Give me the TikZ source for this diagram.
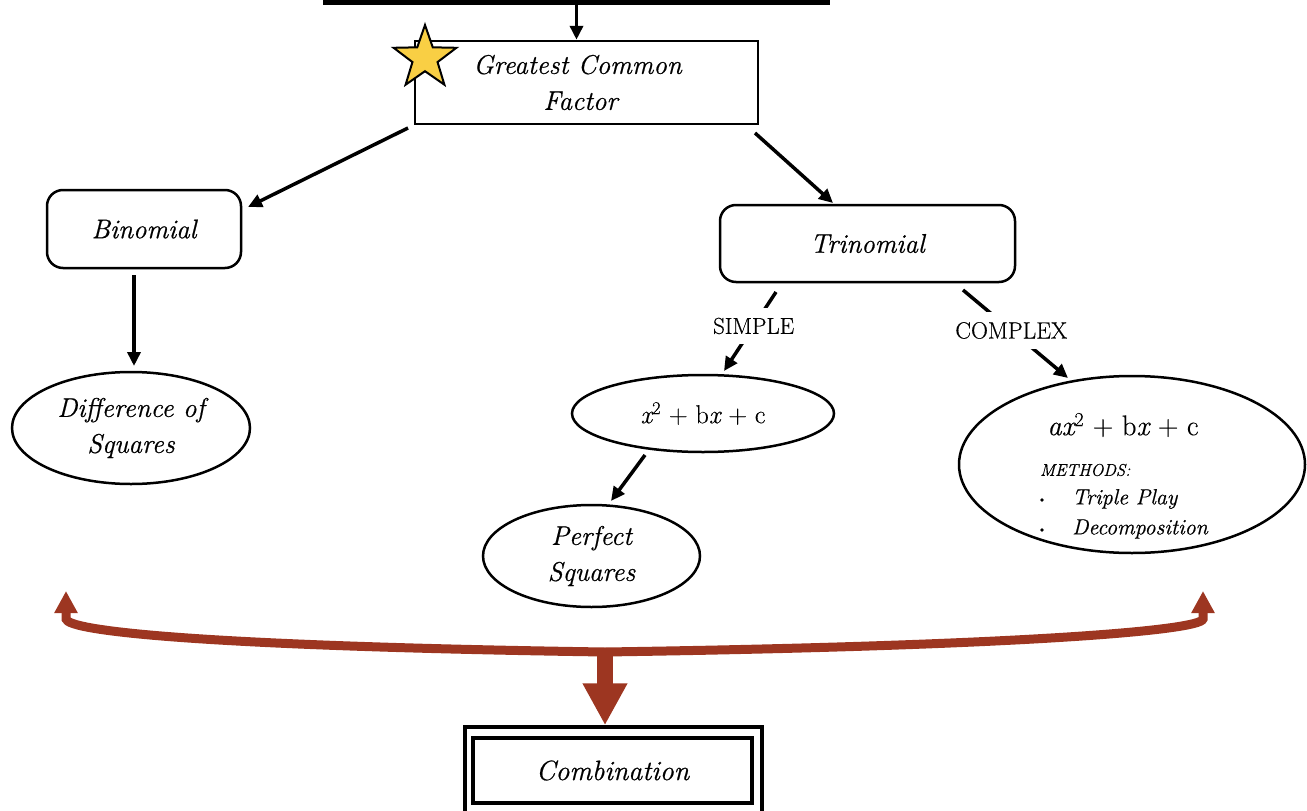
\documentclass[tikz,border=0pt]{standalone}
\usepackage{fontspec}
\usetikzlibrary{arrows.meta,shapes.geometric}
\definecolor{bracered}{RGB}{157,54,33}
\definecolor{staryel}{RGB}{249,207,68}
\newfontfamily\labfam{Latin Modern Roman}[ItalicFeatures={FakeBold=0.6}]
\newfontfamily\upfam{Latin Modern Roman}[FakeBold=0.4]
\newcommand{\upsize}[1]{\upfam\upshape\fontsize{#1}{#1}\selectfont}
\begin{document}
\begin{tikzpicture}[x=1pt,y=-1pt,
 lbl/.style={font=\labfam\fontsize{27}{36}\selectfont\itshape, align=center},
 boxr/.style={draw, line width=2.5pt, rectangle, inner sep=0pt, lbl},
 rbox/.style={boxr, rounded corners=16pt},
 ell/.style={draw, line width=2.5pt, ellipse, inner sep=0pt, lbl},
 arr/.style={line width=3.5pt, -{Triangle[length=14pt,width=13pt]}},
 tlab/.style={fill=white, inner xsep=2pt, inner ysep=10pt},
 small/.style={anchor=west, inner sep=0pt, font=\labfam\fontsize{22}{26}\selectfont\itshape},
 dot/.style={circle, fill=black, inner sep=1.3pt},
 bigred/.style={draw=bracered, line width=9pt},
]
\useasboundingbox (0,0) rectangle (1307,811);

% top bar
\node[fill=black, minimum width=507pt, minimum height=8pt, inner sep=0pt] (bar) at (576.5,1) {};

% main nodes
\node[boxr, minimum width=343pt, minimum height=83pt] (gcf) at (586.5,82.5) {Greatest Common\hspace*{18pt}\\Factor\hspace*{12pt}};
\node[star, star points=5, star point ratio=2.5, draw, line width=2pt, fill=staryel, minimum size=66pt, inner sep=0pt] (star) at (425,58) {};
\node[rbox, minimum width=194pt, minimum height=78pt] (bin) at (144,229) {Binomial};
\node[rbox, minimum width=295pt, minimum height=77pt] (tri) at (867.5,243.5) {Trinomial};
\node[ell, minimum width=238pt, minimum height=112pt] (dos) at (131,428) {Difference of\\Squares};
\node[ell, minimum width=262pt, minimum height=77pt, font=\upsize{26}] (simp) at (703,413.5) {{\itshape x}\textsuperscript{2} + b{\itshape x} + c};
\node[ell, minimum width=217pt, minimum height=102pt] (ps) at (591.5,556) {Perfect\\Squares};
\node[ell, minimum width=346pt, minimum height=177pt] (cpx) at (1132,464.5) {};
\node[font=\upsize{28.5}] (cpxf) at (1123,425) {{\itshape ax}\textsuperscript{2} + b{\itshape x} + c};
\node[small, font=\labfam\fontsize{17}{20}\selectfont\itshape] (meth) at (1040,470) {METHODS:};
\node[dot] (d1) at (1042,500) {};
\node[small] (m1) at (1072,499) {Triple Play};
\node[dot] (d2) at (1042,530) {};
\node[small] (m2) at (1072,529) {Decomposition};

% combination
\node[draw, line width=3.5pt, minimum width=297pt, minimum height=88pt, inner sep=0pt] (combo) at (613.5,771) {};
\node[draw, line width=4pt, minimum width=279pt, minimum height=65pt, inner sep=0pt, font=\labfam\fontsize{28}{32}\selectfont\itshape] (comb) at (612.5,770.5) {Combination};

% connector coordinates
\coordinate (g1) at (408,128);
\coordinate (b1) at (248,207);
\coordinate (g2) at (755,133);
\coordinate (t1) at (833,203);
\coordinate (b2) at (134,275);
\coordinate (dd) at (134,366);
\coordinate (t2) at (776,292);
\coordinate (s1) at (724,371);
\coordinate (t3) at (963,290);
\coordinate (c1) at (1068,378);
\coordinate (x1) at (645,455);
\coordinate (p1) at (611,501);
\coordinate (bl) at (66,591);
\coordinate (br) at (1203,591);
\coordinate (bm) at (605,652);

% connectors
\draw[arr] (bar.south) -- (bar.south |- gcf.north);
\draw[arr] (g1) -- (b1);
\draw[arr] (g2) -- (t1);
\draw[arr] (b2) -- (dd);
\draw[arr] (t2) -- node[tlab, pos=0.43, font=\upsize{23}] (lsimple) {SIMPLE} (s1);
\draw[arr] (t3) -- node[tlab, pos=0.46, font=\upsize{23.5}] (lcomplex) {COMPLEX} (c1);
\draw[arr] (x1) -- (p1);

% red brace
\draw[bigred, {Triangle[length=22pt,width=22pt]}-{Triangle[length=22pt,width=22pt]}]
  (bl) -- (66,619) .. controls (68,631) and (200,646) .. (bm)
  .. controls (1010,646) and (1201,631) .. (1203,619) -- (br);
\draw[draw=bracered, line width=16pt, -{Triangle[length=42pt,width=42pt]}] (bm) -- (bm |- combo.north);
\end{tikzpicture}
\end{document}
